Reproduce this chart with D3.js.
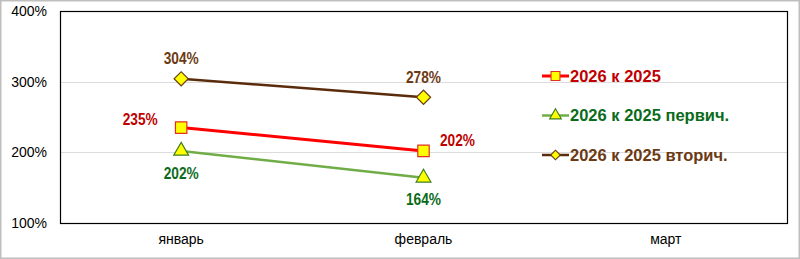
<!DOCTYPE html>
<html>
<head>
<meta charset="utf-8">
<script src="https://cdn.jsdelivr.net/npm/d3@7"></script>
<style>
  body { margin: 0; background: #fff; }
  svg { display: block; }
</style>
</head>
<body>
<svg id="chart"></svg>
<script>
// data
var months = ["январь", "февраль", "март"];
var yTicks = [100, 200, 300, 400];
var seriesNames = ["2026 к 2025", "2026 к 2025 первич.", "2026 к 2025 вторич."];
var total = [235, 202];
var primary = [202, 164];
var secondary = [304, 278];

var width = 800, height = 259;
var margin = { top: 11, right: 13, bottom: 36, left: 60 };

var svg = d3.select("#chart").attr("width", width).attr("height", height);

// outer frame
svg.append("rect")
  .attr("x", 0.5).attr("y", 0.5)
  .attr("width", width - 1).attr("height", height - 1)
  .style("fill", "#fff").style("stroke", "#bfbfbf").style("stroke-width", 2);

var x = d3.scaleBand().domain(months).range([margin.left, width - margin.right]);
var y = d3.scaleLinear().domain([100, 400]).range([height - margin.bottom, margin.top]);

// gridlines (only inner ones)
svg.append("g")
  .selectAll("line")
  .data(yTicks.filter(function(d) { return d > 100 && d < 400; }))
  .enter().append("line")
    .attr("x1", margin.left).attr("x2", width - margin.right)
    .attr("y1", function(d) { return Math.round(y(d)) + 0.5; })
    .attr("y2", function(d) { return Math.round(y(d)) + 0.5; })
    .style("stroke", "#dcdcdc").style("stroke-width", 1);

// plot border
svg.append("rect")
  .attr("x", margin.left + 0.5).attr("y", margin.top + 0.5)
  .attr("width", width - margin.right - margin.left)
  .attr("height", height - margin.bottom - margin.top)
  .style("fill", "none").style("stroke", "#000").style("stroke-width", 1.2);

// y axis labels
var yAxis = d3.axisLeft(y).tickValues(yTicks).tickSize(0).tickPadding(13)
  .tickFormat(function(d) { return d + "%"; });
var gy = svg.append("g").attr("transform", "translate(" + margin.left + ",0)").call(yAxis);
gy.select(".domain").remove();
gy.selectAll("text").style("font-family", "Arial, 'Liberation Sans', sans-serif")
  .style("font-size", "14px").style("fill", "#000");

// x axis labels
var xAxis = d3.axisBottom(x).tickSize(0).tickPadding(11);
var gx = svg.append("g").attr("transform", "translate(0," + (height - margin.bottom) + ")").call(xAxis);
gx.select(".domain").remove();
gx.selectAll("text").style("font-family", "Arial, 'Liberation Sans', sans-serif")
  .style("font-size", "14px").style("fill", "#000");

var cx = function(i) { return x(months[i]) + x.bandwidth() / 2; };

// diamond = square turned 45 degrees
var series = [
  { name: seriesNames[0], values: total, line: "#ff0000", lw: 3, stroke: "#e0301e", label: "#c00000",
    symbol: d3.symbolSquare, size: 130, lsize: 80, rot: 0 },
  { name: seriesNames[1], values: primary, line: "#70ad47", lw: 2.5, stroke: "#3f7f1f", label: "#0b6b1a",
    symbol: d3.symbolTriangle, size: 95, lsize: 60, rot: 0 },
  { name: seriesNames[2], values: secondary, line: "#5b2c0c", lw: 2.5, stroke: "#6b3a10", label: "#6b3a12",
    symbol: d3.symbolSquare, size: 100, lsize: 45, rot: 45 }
];

var line = d3.line()
  .x(function(d, i) { return cx(i); })
  .y(function(d) { return y(d); });

series.forEach(function(s) {
  svg.append("path")
    .datum(s.values)
    .attr("d", line)
    .style("fill", "none").style("stroke", s.line).style("stroke-width", s.lw);
});

series.forEach(function(s) {
  svg.append("g").selectAll("path")
    .data(s.values)
    .enter().append("path")
      .attr("transform", function(d, i) { return "translate(" + cx(i) + "," + y(d) + ") rotate(" + s.rot + ")"; })
      .attr("d", d3.symbol().type(s.symbol).size(s.size))
      .style("fill", "#ffff00").style("stroke", s.stroke).style("stroke-width", 1.2);
});

// data labels: offsets per point [dx, dy]
var labelOffsets = [
  [[-41, -9], [34, -11]],
  [[0, 22], [0, 21]],
  [[0, -21], [0, -20]]
];

// labels are a condensed bold face in the original, squeeze them to width
series.forEach(function(s, si) {
  svg.append("g").selectAll("text")
    .data(s.values)
    .enter().append("text")
      .attr("x", function(d, i) { return cx(i) + labelOffsets[si][i][0]; })
      .attr("y", function(d, i) { return y(d) + labelOffsets[si][i][1]; })
      .attr("text-anchor", "middle")
      .attr("dy", "0.35em")
      .attr("textLength", 35)
      .attr("lengthAdjust", "spacingAndGlyphs")
      .style("font-family", "'Liberation Sans Narrow', 'Arial Narrow', Arial, sans-serif")
      .style("font-weight", "bold")
      .style("font-size", "17px")
      .style("fill", s.label)
      .text(function(d) { return d + "%"; });
});

// legend
var legend = svg.append("g").attr("transform", "translate(542,76)");
var rows = legend.selectAll("g").data(series).enter().append("g")
  .attr("transform", function(d, i) { return "translate(0," + (i * 39.5) + ")"; });
rows.append("line")
  .attr("x1", 0).attr("x2", 27).attr("y1", 0).attr("y2", 0)
  .style("stroke", function(d) { return d.line; }).style("stroke-width", function(d) { return d.lw; });
rows.append("path")
  .attr("transform", function(d) { return "translate(13.5,0) rotate(" + d.rot + ")"; })
  .attr("d", function(d) { return d3.symbol().type(d.symbol).size(d.lsize)(); })
  .style("fill", "#ffff00").style("stroke", function(d) { return d.stroke; }).style("stroke-width", 1.1);
rows.append("text")
  .attr("x", 28).attr("y", 0).attr("dy", "0.35em")
  .style("font-family", "Arial, 'Liberation Sans', sans-serif")
  .style("font-weight", "bold").style("font-size", "16.5px")
  .style("fill", function(d) { return d.label; })
  .text(function(d) { return d.name; });
</script>
</body>
</html>
